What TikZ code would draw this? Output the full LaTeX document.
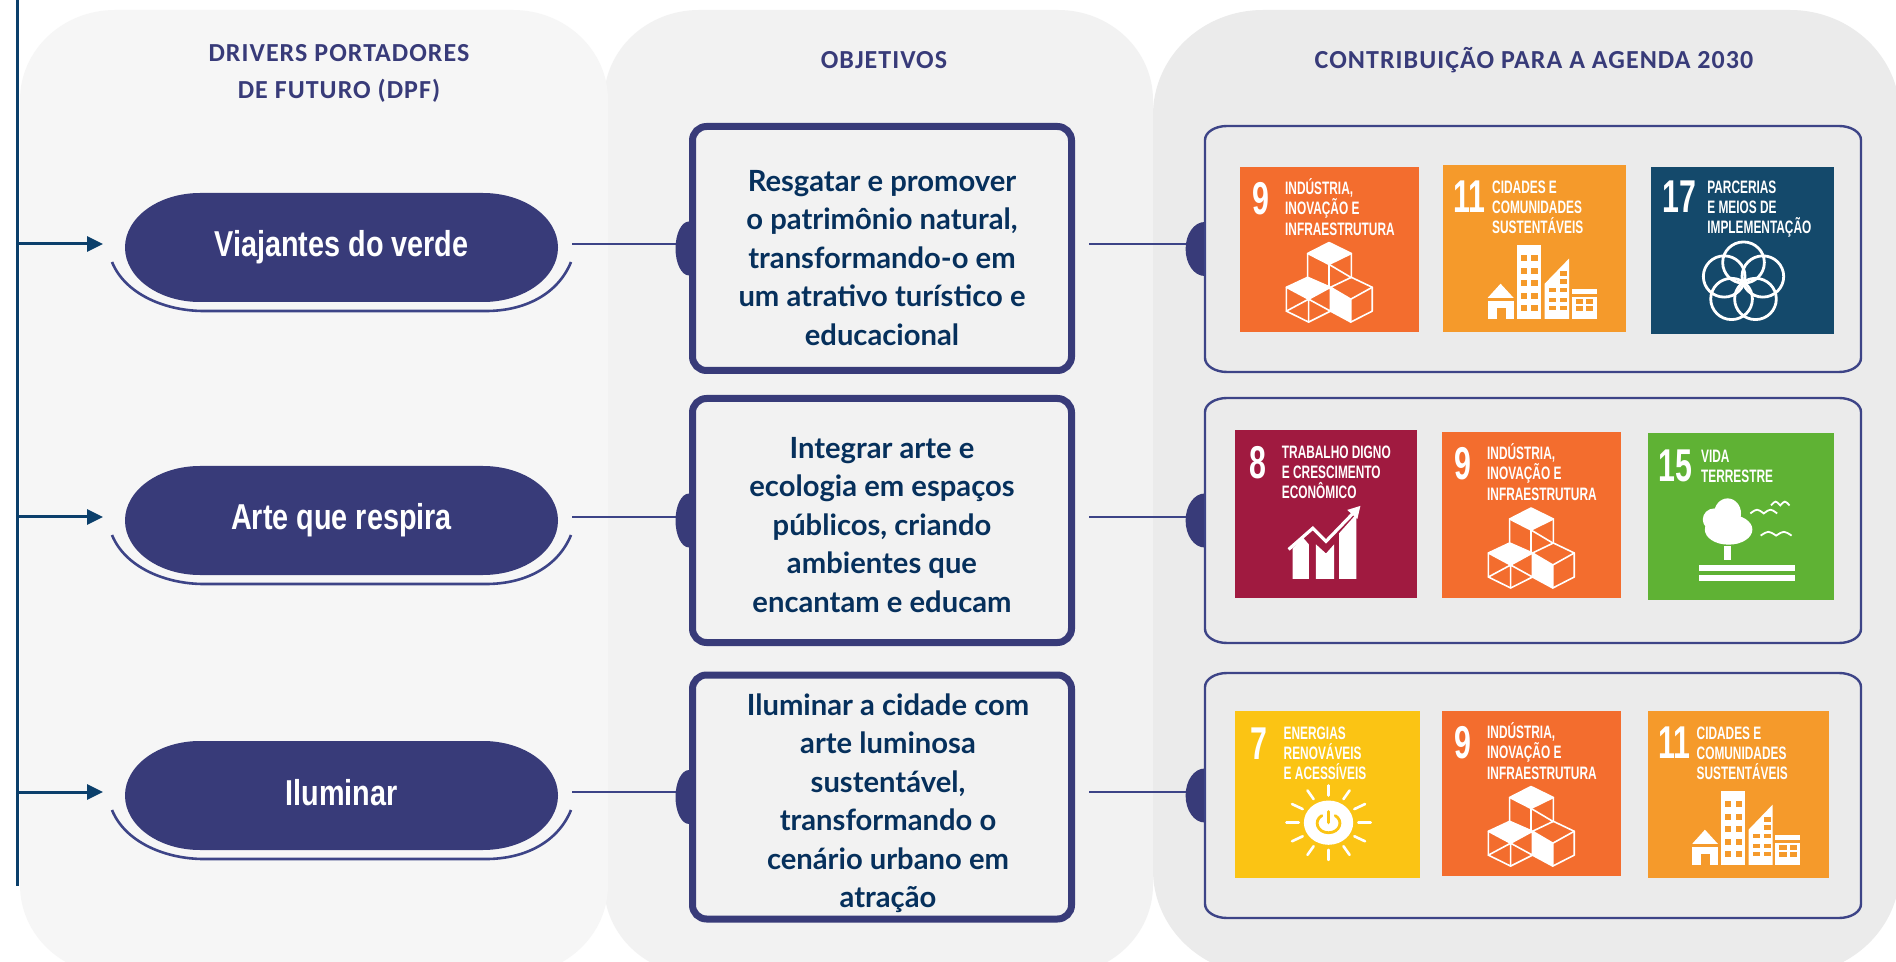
\documentclass[tikz,border=0pt]{standalone}
\usepackage{fontspec}
\usetikzlibrary{arrows.meta}
\setmainfont{Liberation Sans}
\newfontfamily\pillfont[FakeStretch=0.80]{Liberation Sans}
\newfontfamily\sdgfont[FakeStretch=0.66]{Liberation Sans}
\newfontfamily\headfont[LetterSpace=4]{Carlito}
\newfontfamily\goalfont{Lato}
\definecolor{navy}{HTML}{383B79}
\definecolor{linec}{HTML}{3D4487}
\definecolor{busc}{HTML}{0B3F6B}
\definecolor{goalc}{HTML}{06305C}
\definecolor{panelA}{HTML}{F6F6F6}
\definecolor{panelB}{HTML}{F2F2F2}
\definecolor{panelC}{HTML}{EBEBEB}
\definecolor{sdgNine}{HTML}{F36D2E}
\definecolor{sdgEleven}{HTML}{F59A2B}
\definecolor{sdgSeventeen}{HTML}{14496B}
\definecolor{sdgEight}{HTML}{A01A40}
\definecolor{sdgFifteen}{HTML}{5FB234}
\definecolor{sdgSeven}{HTML}{FBC414}
\tikzset{
  heading/.style={font=\headfont\bfseries\fontsize{13}{18.5}\selectfont,text=navy,align=center,inner sep=0},
  pilltext/.style={font=\pillfont\bfseries\fontsize{18}{20}\selectfont,text=white,inner sep=0,minimum width=216.5pt,text height=13pt,text depth=0pt},
  goalbox/.style={draw=navy,line width=3.5pt,fill=panelB,rounded corners=7pt,inner sep=0,minimum width=189.5pt,minimum height=122pt},
  goaltext/.style={font=\goalfont\bfseries\fontsize{14.6}{19.25}\selectfont,text=goalc,align=center,inner sep=0},
  resbox/.style={inner sep=0,minimum width=328pt,minimum height=122.5pt},
  link/.style={draw=linec,line width=0.8pt},
  busline/.style={draw=busc,line width=1.5pt},
  busarrow/.style={busline,-{Triangle[length=8pt,width=7.5pt]},shorten >=10.75pt},
  sdgnum/.style={font=\sdgfont\bfseries\fontsize{23}{23}\selectfont,text=white,inner sep=0,anchor=base west},
  sdgtxt/.style={font=\sdgfont\bfseries\fontsize{9}{10}\selectfont,text=white,inner sep=0,anchor=base west},
  ico/.style={draw=white,line width=0.8pt,line join=round,line cap=round},
}
\newcommand{\rrpath}[6]{({#1+#5},#2) -- ({#3-#5},#2) .. controls ({#3-0.4477*#5},#2) and (#3,{#2+0.4477*#6}) .. (#3,{#2+#6}) -- (#3,{#4-#6}) .. controls (#3,{#4-0.4477*#6}) and ({#3-0.4477*#5},#4) .. ({#3-#5},#4) -- ({#1+#5},#4) .. controls ({#1+0.4477*#5},#4) and (#1,{#4-0.4477*#6}) .. (#1,{#4-#6}) -- (#1,{#2+#6}) .. controls (#1,{#2+0.4477*#6}) and ({#1+0.4477*#5},#2) .. ({#1+#5},#2) -- cycle}
% pill: name, text-centre y, text
\newcommand{\pill}[3]{%
  \fill[navy] \rrpath{125}{#2-51}{558}{#2+58}{75}{54.5};
  \draw[linec,line width=1.3pt] (112,#2+18) .. controls (125,#2+50) and (165,#2+67) .. (204,#2+67) -- (486,#2+67) .. controls (525,#2+67) and (558,#2+50) .. (571,#2+18);
  \node[pilltext] (#1) at (341.5,#2) {#3};
}
% one tile: name x0 y0 x1 y1 colour body
\newcommand{\sdg}[7]{%
  \def\tn{#1}\colorlet{tilec}{#6}%
  \fill[#6] (#2,#3) rectangle (#4,#5);
  \begin{scope}[shift={(#2,#3)},xscale={(#4-#2)/180},yscale={(#5-#3)/166}]
  #7
  \end{scope}
}
\newcommand{\tnum}[3]{\node[sdgnum] (\tn-n) at (#1,#2) {#3};}
\newcommand{\tline}[4]{\node[sdgtxt] (\tn-#1) at (#2,#3) {#4};}
\newcommand{\icubes}{%
  \fill[white] (89.5,76)--(112,87)--(89.5,98)--(68,87)--cycle;
  \fill[white] (69,111)--(91,121)--(69,133)--(46.6,121)--cycle;
  \fill[white] (91,121)--(111.4,133)--(111.4,156)--(91,145)--cycle;
  \draw[ico] (89.5,76)--(112,87)--(112,111)--(133,121)--(133,145)--(111.4,156)--(91,145)--(69,156)--(46.6,145)--(46.6,121)--(68,111)--(68,87)--cycle;
  \draw[ico] (89.5,98)--(89.5,121) (68,87)--(89.5,98)--(112,87);
  \draw[ico] (68,111)--(91,121)--(112,111) (89.5,98)--(111.4,111) (91,121)--(111.4,133)--(133,121) (111.4,133)--(111.4,156);
  \draw[ico] (46.6,121)--(69,133)--(91,121)--(91,145) (69,133)--(69,156) (46.6,145)--(69,133) (69,133)--(91,145);
}
\newcommand{\icity}{%
  \fill[white] (72.6,80) rectangle (96.3,153);
  \foreach \yy in {89,102,114,127,139}{\fill[tilec] (76.7,\yy) rectangle (83,\yy+6);\fill[tilec] (87,\yy) rectangle (93.4,\yy+6);}
  \fill[white] (100,118)--(124,93)--(124,153)--(100,153)--cycle;
  \foreach \yy in {122,132,140}{\fill[tilec] (104,\yy) rectangle (111,\yy+4.5);\fill[tilec] (115,\yy) rectangle (122,\yy+4.5);}
  \fill[tilec] (115,105) rectangle (122,110);\fill[tilec] (115,113) rectangle (122,118);
  \fill[white] (126.5,123) rectangle (151.6,128);
  \fill[white] (126.5,131) rectangle (151.6,153);
  \foreach \yy in {133.5,140.5}{\fill[tilec] (130.6,\yy) rectangle (138,\yy+5);\fill[tilec] (141,\yy) rectangle (148,\yy+5);}
  \fill[white] (44,132)--(56.6,118)--(69.4,132)--cycle;
  \fill[white] (44,135) rectangle (69.4,153);
  \fill[tilec] (53,142) rectangle (62,153);
}
\newcommand{\iflower}{%
  \foreach \aa in {90,162,234,306,18}{\draw[white,line width=1.4pt] ({91+20*cos(\aa)},{115-20*sin(\aa)}) circle[x radius=20.5,y radius=20.5];}
}
\newcommand{\igrowth}{%
  \fill[white] (57,147)--(57,117)--(67,106)--(73,113)--(73,147)--cycle;
  \fill[white] (80,147)--(80,113)--(90,122)--(98,113)--(98,147)--cycle;
  \fill[white] (103,147)--(103,102)--(120,83)--(120,147)--cycle;
  \draw[white,line width=1.6pt] (53,118)--(77,97)--(90,110)--(119,80);
  \fill[white] (124,75)--(121,88)--(111,79)--cycle;
}
\newcommand{\itree}{%
  \fill[white] (77,80) circle[x radius=13,y radius=15];
  \fill[white] (64,86) circle[x radius=11,y radius=11];
  \fill[white] (78,96) circle[x radius=23,y radius=15];
  \fill[white] (74,112) rectangle (80,126);
  \fill[white] (49,131) rectangle (142,137);
  \fill[white] (49,141) rectangle (142,147);
  \foreach \bx/\by/\bw in {112/78/13,128/70/9,124/100/15}{
    \draw[white,line width=0.9pt] (\bx-\bw,\by+2) .. controls (\bx-\bw/2,\by-3) .. (\bx,\by+2) .. controls (\bx+\bw/2,\by-3) .. (\bx+\bw,\by+2);}
}
\newcommand{\isun}{%
  \fill[white] (91,111) circle[x radius=24,y radius=22];
  \draw[tilec,line width=1.3pt] (86,103.5) arc[start angle=130,end angle=-130,x radius=-0,y radius=0];
  \draw[tilec,line width=1.4pt,line cap=round] (84.5,104) .. controls (76,109) and (80,121) .. (91,121) .. controls (102,121) and (106,109) .. (97.5,104);
  \draw[tilec,line width=1.6pt,line cap=round] (91,100) -- (91,111);
  \foreach \aa in {0,30,...,330}{\draw[white,line width=1.3pt,line cap=round] ({91+29*cos(\aa)},{111-27*sin(\aa)}) -- ({91+41*cos(\aa)},{111-37*sin(\aa)});}
}
\newcommand{\tilenine}[5]{\sdg{#1}{#2}{#3}{#4}{#5}{sdgNine}{\tnum{12}{48}{9}\tline{a}{45}{28}{INDÚSTRIA,}\tline{b}{45}{48}{INOVAÇÃO E}\tline{c}{45}{68.7}{INFRAESTRUTURA}\icubes}}
\newcommand{\tileeleven}[5]{\sdg{#1}{#2}{#3}{#4}{#5}{sdgEleven}{\tnum{10}{47}{11}\tline{a}{48}{28}{CIDADES E}\tline{b}{48}{48}{COMUNIDADES}\tline{c}{48}{68}{SUSTENTÁVEIS}\icity}}
\begin{document}
\begin{tikzpicture}[x=0.5pt,y=-0.5pt]
\useasboundingbox (0,0) rectangle (1896,962);
\clip (0,0) rectangle (1896,962);
\fill[white] (0,0) rectangle (1896,962);
% panels
\fill[panelB] \rrpath{604}{10}{1153}{975}{95}{90};
\fill[panelA] \rrpath{20}{10}{608}{975}{95}{90};
\fill[panelC] \rrpath{1153}{10}{1900}{975}{110}{105};
% headings
\node[heading] (h1) at (339,73.5) {DRIVERS PORTADORES\\DE FUTURO (DPF)};
\node[heading] (h2) at (884,60) {OBJETIVOS};
\node[heading] (h3) at (1534,60) {CONTRIBUIÇÃO PARA A AGENDA 2030};
% bus
\coordinate (bust) at (17.5,0);
\coordinate (busb) at (17.5,886);
\draw[busline] (bust) -- (busb);
% pills
\pill{p1}{244}{Viajantes do verde}
\pill{p2}{517}{Arte que respira}
\pill{p3}{792}{Iluminar}
% goal boxes (named first so the links can reach them)
\path (882,248.5) node[goalbox,draw=none,fill=none] (g1) {} (882,520.5) node[goalbox,draw=none,fill=none] (g2) {} (882,797) node[goalbox,draw=none,fill=none] (g3) {};
\path (1533,249) node[resbox] (r1) {} (1533,520.5) node[resbox] (r2) {} (1533,795.5) node[resbox] (r3) {};
\foreach \n in {1,2,3}{
  \draw[busarrow] (p\n.west -| bust) -- (p\n.west);
  \draw[link] (p\n.east) ++(14,0) -- (p\n.east -| g\n.west);
  \draw[link] (p\n.east -| g\n.east) ++(14,0) -- (p\n.east -| r\n.west);
  \fill[navy] (g\n.west) ellipse[x radius=13.5,y radius=27];
  \fill[navy] (r\n.west) ellipse[x radius=19,y radius=27];
  \node[goalbox] (gb\n) at (g\n) {};
  \draw[linec,line width=1.2pt,fill=panelC] \rrpath{1205}{\ifnum\n=1 126\else\ifnum\n=2 398\else 673\fi\fi}{1861}{\ifnum\n=1 372\else\ifnum\n=2 643\else 918\fi\fi}{22}{14};
}
% goal texts
\node[goaltext] (t1) at (882,258) {Resgatar e promover\\o patrimônio natural,\\transformando-o em\\um atrativo turístico e\\educacional};
\node[goaltext] (t2) at (882,525) {Integrar arte e\\ecologia em espaços\\públicos, criando\\ambientes que\\encantam e educam};
\node[goaltext] (t3) at (888,803) {Iluminar a cidade com\\arte luminosa\\sustentável,\\transformando o\\cenário urbano em\\atração};
% tiles row 1
\tilenine{a}{1240}{167}{1419}{332}
\tileeleven{b}{1443}{165}{1626}{332}
\sdg{c}{1651}{167}{1834}{334}{sdgSeventeen}{\tnum{11}{45}{17}\tline{a}{55}{26}{PARCERIAS}\tline{b}{55}{46}{E MEIOS DE}\tline{c}{55}{66}{IMPLEMENTAÇÃO}\iflower}
% tiles row 2
\sdg{d}{1235}{430}{1417}{598}{sdgEight}{\tnum{14}{48}{8}\tline{a}{46}{28}{TRABALHO DIGNO}\tline{b}{46}{48}{E CRESCIMENTO}\tline{c}{46}{68}{ECONÔMICO}\igrowth}
\tilenine{e}{1442}{432}{1621}{598}
\sdg{f}{1648}{433}{1834}{600}{sdgFifteen}{\tnum{10}{48}{15}\tline{a}{51}{29}{VIDA}\tline{b}{51}{49}{TERRESTRE}\itree}
% tiles row 3
\sdg{g}{1235}{711}{1420}{878}{sdgSeven}{\tnum{15}{48}{7}\tline{a}{47}{28}{ENERGIAS}\tline{b}{47}{48}{RENOVÁVEIS}\tline{c}{47}{68}{E ACESSÍVEIS}\isun}
\tilenine{h}{1442}{711}{1621}{876}
\tileeleven{i}{1648}{711}{1829}{878}
\end{tikzpicture}
\end{document}
